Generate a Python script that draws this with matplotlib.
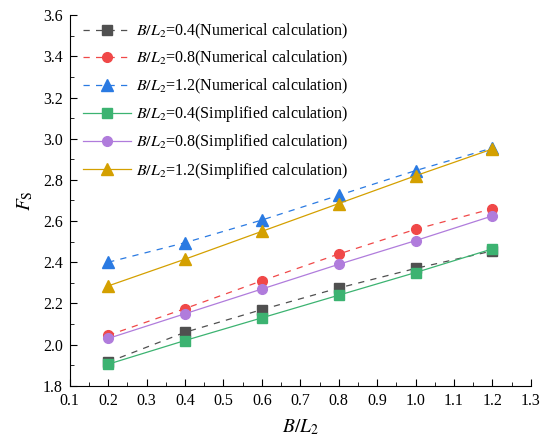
import matplotlib
matplotlib.use('Agg')
import matplotlib.pyplot as plt
from matplotlib.ticker import MultipleLocator, AutoMinorLocator

plt.rcParams['font.family'] = ['Liberation Serif', 'DejaVu Serif']
plt.rcParams['mathtext.fontset'] = 'stix'

# B/L2 values on x axis
bl = [0.2, 0.4, 0.6, 0.8, 1.0, 1.2]

# numerical calculation
num_04 = [1.915, 2.06, 2.17, 2.275, 2.37, 2.455]
num_08 = [2.045, 2.175, 2.31, 2.44, 2.56, 2.66]
num_12 = [2.40, 2.495, 2.605, 2.725, 2.845, 2.955]

# simplified calculation
sim_04 = [1.905, 2.02, 2.13, 2.24, 2.35, 2.465]
sim_08 = [2.03, 2.15, 2.27, 2.39, 2.505, 2.625]
sim_12 = [2.285, 2.415, 2.55, 2.685, 2.82, 2.95]

fig = plt.figure(figsize=(5.45, 4.45), dpi=100)
ax = fig.add_axes([0.128, 0.133, 0.846, 0.833])

ax.plot(bl, num_04, '--s', color='#505050', lw=0.9, ms=7, dashes=(5, 5),
        label='$B/L_2$=0.4(Numerical calculation)')
ax.plot(bl, num_08, '--o', color='#f04848', lw=0.9, ms=7, dashes=(5, 5),
        label='$B/L_2$=0.8(Numerical calculation)')
ax.plot(bl, num_12, '--^', color='#2a7ae2', lw=0.9, ms=8, dashes=(5, 5),
        label='$B/L_2$=1.2(Numerical calculation)')
ax.plot(bl, sim_04, '-s', color='#3cb371', lw=0.9, ms=7,
        label='$B/L_2$=0.4(Simplified calculation)')
ax.plot(bl, sim_08, '-o', color='#b07cdc', lw=0.9, ms=7,
        label='$B/L_2$=0.8(Simplified calculation)')
ax.plot(bl, sim_12, '-^', color='#d4a000', lw=0.9, ms=8,
        label='$B/L_2$=1.2(Simplified calculation)')

ax.set_xlim(0.1, 1.3)
ax.set_ylim(1.8, 3.6)
ax.xaxis.set_major_locator(MultipleLocator(0.1))
ax.yaxis.set_major_locator(MultipleLocator(0.2))
ax.xaxis.set_minor_locator(AutoMinorLocator(2))
ax.yaxis.set_minor_locator(AutoMinorLocator(2))
ax.xaxis.set_major_formatter(plt.FormatStrFormatter('%.1f'))
ax.yaxis.set_major_formatter(plt.FormatStrFormatter('%.1f'))

for s in ['top', 'right']:
    ax.spines[s].set_visible(False)
ax.tick_params(which='both', direction='in', labelsize=11.5)
ax.tick_params(which='major', length=5, pad=5)
ax.tick_params(which='minor', length=3)

ax.set_xlabel('$B/L_2$', fontsize=14, labelpad=6)
ax.set_ylabel('$F_\\mathrm{S}$', fontsize=14, labelpad=6)

ax.legend(loc='upper left', frameon=False, fontsize=11.5, handlelength=3.0,
          handletextpad=0.3, labelspacing=0.52, borderaxespad=0.0,
          bbox_to_anchor=(0.015, 1.0))

fig.savefig('out.png', dpi=100)
